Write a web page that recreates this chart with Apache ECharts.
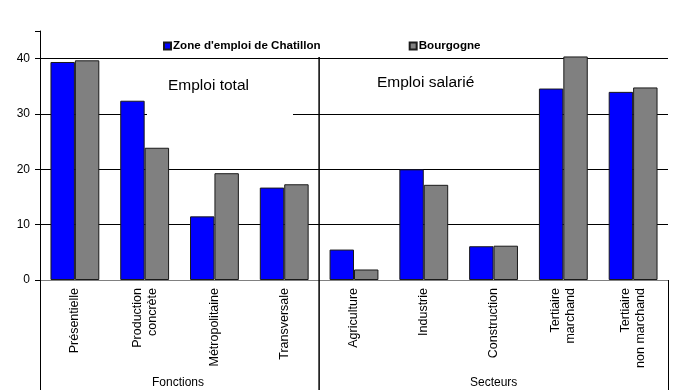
<!DOCTYPE html>
<html>
<head>
<meta charset="utf-8">
<script src="https://cdn.jsdelivr.net/npm/echarts@6/dist/echarts.min.js"></script>
<style>
  html, body { margin: 0; padding: 0; background: #fff; }
  #chart { width: 675px; height: 390px; }
</style>
</head>
<body>
<div id="chart"></div>
<script>
const categories = ['Présentielle', 'Production\nconcrète', 'Métropolitaine', 'Transversale',
  'Agriculture', 'Industrie', 'Construction', 'Tertiaire\nmarchand', 'Tertiaire\nnon marchand'];
const chatillon = [39.4, 32.4, 11.5, 16.7, 5.5, 20.0, 6.1, 34.6, 34.0];
const bourgogne = [39.7, 23.9, 19.3, 17.3, 1.9, 17.2, 6.2, 40.4, 34.8];
const groups = ['Fonctions', 'Secteurs'];
const panelTitles = ['Emploi total', 'Emploi salarié'];
const yTicks = [0, 10, 20, 30, 40];

const font = "'Liberation Sans', Arial, sans-serif";
const gridLeft = 40;
const gridRight = 7;
const gridTop = 31;
const gridBottom = 110;

const chart = echarts.init(document.getElementById('chart'));

const W = 675, H = 390;
const plotW = W - gridLeft - gridRight;
const divX = gridLeft + plotW * 4 / categories.length;
const baseY = H - gridBottom;

const option = {
  animation: false,
  textStyle: { fontFamily: font },
  legend: {
    left: 158,
    top: 35,
    itemWidth: 7,
    itemHeight: 7,
    itemGap: 88,
    icon: 'rect',
    textStyle: { fontFamily: font, fontSize: 11.6, fontWeight: 'bold', color: '#000', padding: [0, 0, 0, -3] },
    data: ["Zone d'emploi de Chatillon", 'Bourgogne']
  },
  grid: { left: gridLeft, right: gridRight, top: gridTop, bottom: gridBottom },
  xAxis: {
    type: 'category',
    data: categories,
    axisLine: { lineStyle: { color: '#808080', width: 1 } },
    axisTick: { length: 4, lineStyle: { color: '#000' } },
    axisLabel: {
      interval: 0,
      rotate: 90,
      margin: 8,
      fontSize: 12.5,
      lineHeight: 15,
      color: '#000',
      fontFamily: font
    }
  },
  yAxis: {
    type: 'value',
    min: 0,
    max: 45,
    interval: 10,
    axisLine: { show: true, lineStyle: { color: '#000' } },
    axisTick: { show: true, length: 5, lineStyle: { color: '#000' } },
    axisLabel: { margin: 10, fontSize: 12, color: '#000', fontFamily: font, customValues: yTicks },
    splitLine: { show: true, showMinLine: false, showMaxLine: false, lineStyle: { color: '#000', width: 1 } }
  },
  graphic: [
    { type: 'line', z: 50, shape: { x1: divX, y1: 57, x2: divX, y2: H }, style: { stroke: '#000', lineWidth: 1.5 } },
    { type: 'line', z: 50, shape: { x1: gridLeft + 0.5, y1: baseY, x2: gridLeft + 0.5, y2: H }, style: { stroke: '#000', lineWidth: 1 } },
    { type: 'line', z: 50, shape: { x1: W - gridRight + 0.5, y1: baseY, x2: W - gridRight + 0.5, y2: H }, style: { stroke: '#000', lineWidth: 1 } },
    { type: 'rect', z: 40, shape: { x: 147, y: 63, width: 146, height: 55 }, style: { fill: '#fff' } },
    { type: 'text', z: 51, left: 168, top: 78, style: { text: panelTitles[0], font: '15.5px ' + font, fill: '#000' } },
    { type: 'text', z: 51, left: 377, top: 75, style: { text: panelTitles[1], font: '15.5px ' + font, fill: '#000' } },
    { type: 'text', z: 51, left: 152, top: 377, style: { text: groups[0], font: '12px ' + font, fill: '#000' } },
    { type: 'text', z: 51, left: 470, top: 377, style: { text: groups[1], font: '12px ' + font, fill: '#000' } }
  ],
  series: [
    {
      name: "Zone d'emploi de Chatillon",
      type: 'bar',
      data: chatillon,
      barGap: '0%',
      barCategoryGap: '30%',
      z: 60,
      itemStyle: { color: '#0000ff', borderColor: '#1a1a1a', borderWidth: 1 }
    },
    {
      name: 'Bourgogne',
      type: 'bar',
      data: bourgogne,
      z: 60,
      itemStyle: { color: '#808080', borderColor: '#1a1a1a', borderWidth: 1 }
    }
  ]
};

chart.setOption(option);
</script>
</body>
</html>
